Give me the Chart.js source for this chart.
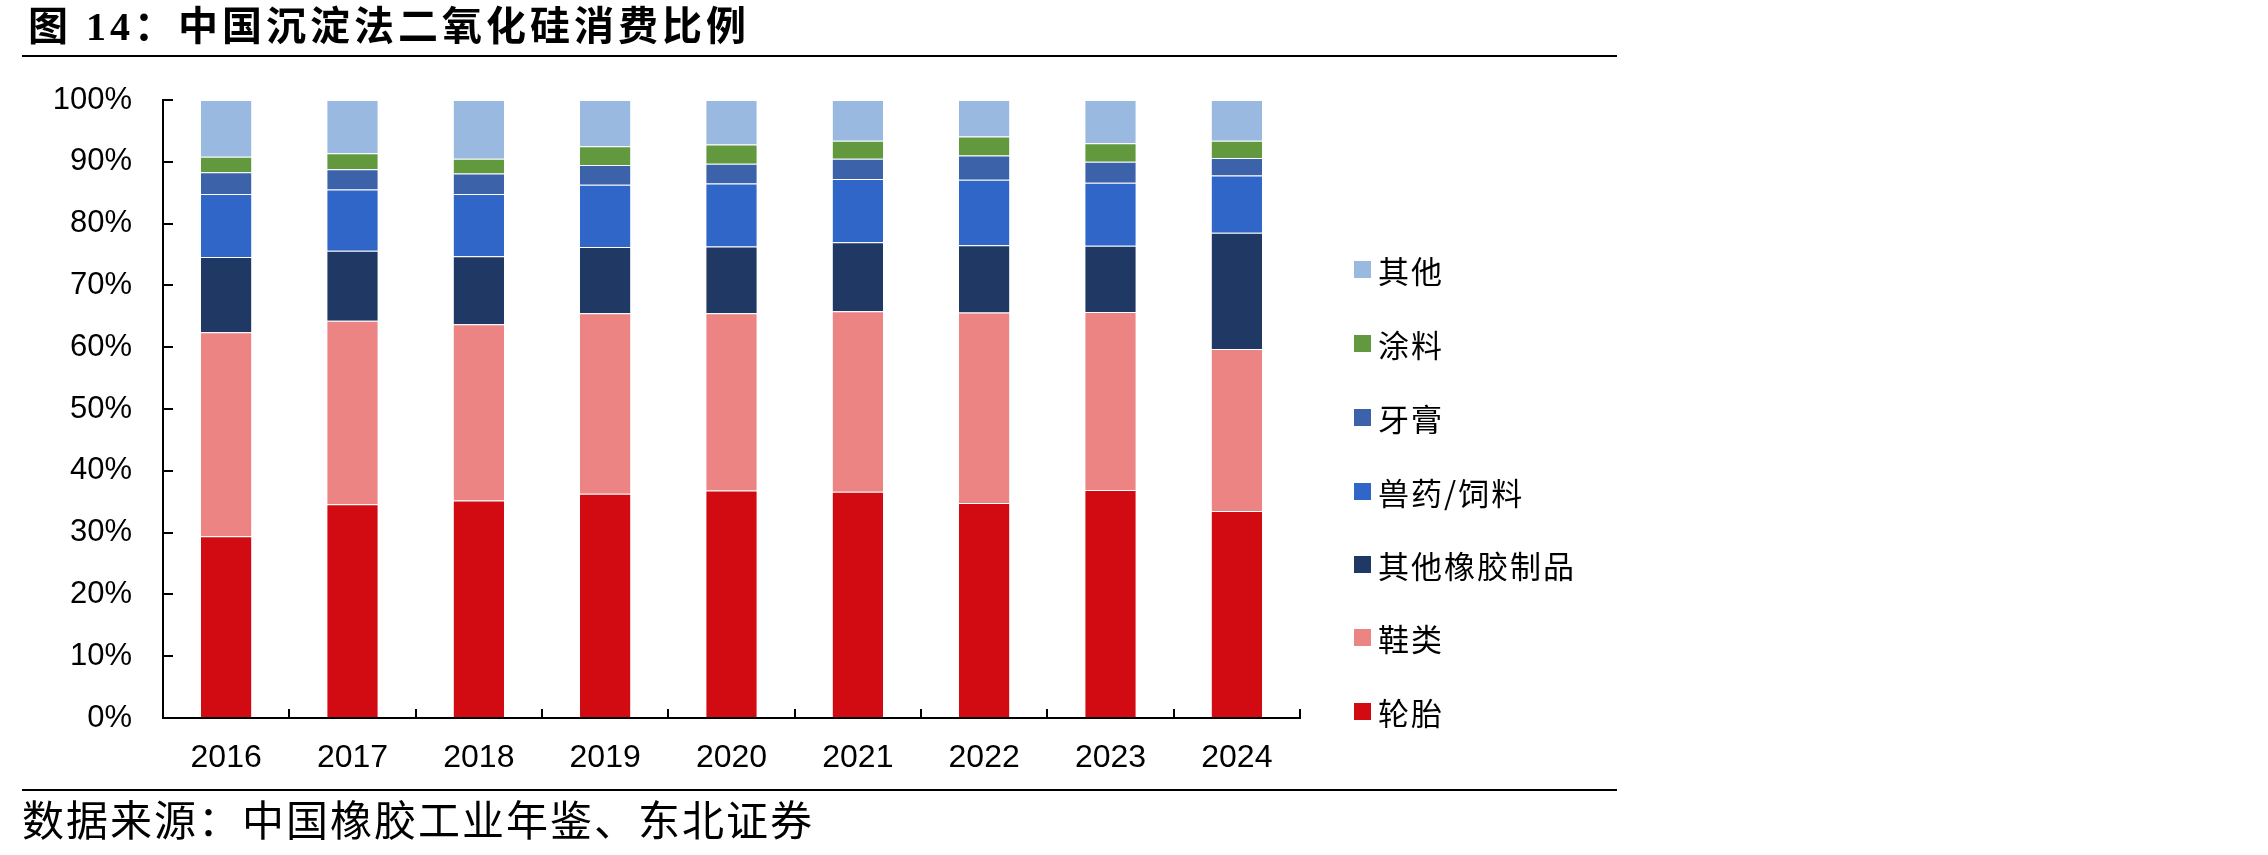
<!DOCTYPE html>
<html>
<head>
<meta charset="utf-8">
<script src="https://cdn.jsdelivr.net/npm/chart.js@4"></script>
<style>
html,body{margin:0;padding:0;background:#fff;}
#wrap{position:relative;width:2268px;height:855px;overflow:hidden;background:#fff;}
#c{position:absolute;left:0;top:0;}
.title{position:absolute;left:28px;top:7px;font-weight:bold;font-size:40px;font-family:"Liberation Serif","Noto Sans CJK SC";letter-spacing:4px;line-height:40px;white-space:nowrap;color:#000;}
.rule{position:absolute;left:22px;width:1595px;height:2px;background:#000;}
.source{position:absolute;left:22px;top:797px;font-size:42px;font-family:"Noto Sans CJK SC";letter-spacing:2px;line-height:42px;white-space:nowrap;color:#000;}
.lg{position:absolute;left:1354px;height:34px;white-space:nowrap;}
.lg .sw{position:absolute;left:0;top:8px;width:17px;height:17px;}
.lg .tx{position:absolute;left:24px;top:0;font-size:31px;letter-spacing:2px;line-height:34px;font-family:"Noto Sans CJK SC";color:#000;}
</style>
</head>
<body>
<div id="wrap">
  <canvas id="c" width="2268" height="855"></canvas>
  <div class="title">图 14：中国沉淀法二氧化硅消费比例</div>
  <div class="rule" style="top:55px"></div>
  <div class="rule" style="top:789px"></div>
  <div class="source">数据来源：中国橡胶工业年鉴、东北证券</div>
  <div id="legend"></div>
</div>
<script>
// ---- data (percent shares) ----
const categories = ['2016','2017','2018','2019','2020','2021','2022','2023','2024'];
const seriesNames = ['轮胎','鞋类','其他橡胶制品','兽药/饲料','牙膏','涂料','其他'];
const tire        = [29.4, 34.6, 35.2, 36.3, 36.8, 36.6, 34.8, 36.9, 33.5];
const shoes       = [33.0, 29.7, 28.5, 29.2, 28.7, 29.2, 30.8, 28.8, 26.2];
const otherRubber = [12.2, 11.3, 11.0, 10.7, 10.8, 11.2, 10.9, 10.7, 18.8];
const vetFeed     = [10.2,  9.9, 10.1, 10.1, 10.2, 10.2, 10.6, 10.2,  9.3];
const toothpaste  = [ 3.5,  3.3,  3.3,  3.2,  3.2,  3.3,  3.9,  3.4,  2.8];
const coating     = [ 2.5,  2.6,  2.4,  3.0,  3.1,  2.9,  3.1,  3.0,  2.8];
const others      = [ 9.2,  8.6,  9.5,  7.5,  7.2,  6.6,  5.9,  7.0,  6.6];
const yTickValues = [0,10,20,30,40,50,60,70,80,90,100];

// ---- styles ----
const seriesColors = ['#D20A11','#EC8484','#203864','#3066C8','#3C62AA','#62993E','#9AB9E0'];
const seriesData = [tire, shoes, otherRubber, vetFeed, toothpaste, coating, others];

const datasets = seriesNames.map((name, i) => ({
  label: name,
  data: seriesData[i],
  backgroundColor: seriesColors[i],
  borderColor: 'rgba(255,255,255,0.35)',
  borderWidth: {top: 1},
  borderSkipped: 'start',
  categoryPercentage: 1.0,
  barPercentage: 0.4
}));

new Chart(document.getElementById('c'), {
  type: 'bar',
  data: { labels: categories, datasets },
  options: {
    responsive: false,
    animation: false,
    events: [],
    layout: { padding: { left: 0, top: 100, right: 968, bottom: 0 } },
    plugins: { legend: { display: false }, tooltip: { enabled: false }, title: { display: false } },
    scales: {
      x: {
        stacked: true,
        grid: { offset: true, drawOnChartArea: false, drawTicks: true, tickLength: -9, color: '#000', lineWidth: 2 },
        border: { display: true, color: '#000', width: 2 },
        ticks: { color: '#000', font: { family: 'Liberation Sans', size: 32 }, padding: 30, maxRotation: 0, autoSkip: false },
        afterFit(s) { s.height = 137; }
      },
      y: {
        stacked: true,
        min: 0, max: 100,
        afterBuildTicks(s) { s.ticks = yTickValues.map(v => ({ value: v })); },
        ticks: { color: '#000', font: { family: 'Liberation Sans', size: 31 }, padding: 41, callback: v => v + '%' },
        grid: { drawOnChartArea: false, drawTicks: true, tickLength: -10, color: '#000', lineWidth: 2 },
        border: { display: true, color: '#000', width: 2 },
        afterFit(s) { s.width = 163; }
      }
    }
  }
});

// ---- legend (reverse order, top = 其他) ----
const legendY = [270, 344, 418, 492, 565, 638, 712];
const lg = document.getElementById('legend');
for (let k = 0; k < seriesNames.length; k++) {
  const i = seriesNames.length - 1 - k;
  const d = document.createElement('div');
  d.className = 'lg';
  d.style.top = (legendY[k] - 17) + 'px';
  d.innerHTML = '<div class="sw" style="background:' + seriesColors[i] + '"></div><div class="tx">' + seriesNames[i] + '</div>';
  lg.appendChild(d);
}
</script>
</body>
</html>
